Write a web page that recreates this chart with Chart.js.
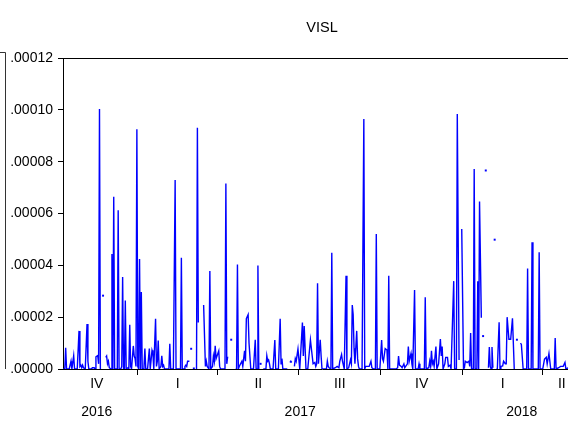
<!DOCTYPE html>
<html>
<head>
<meta charset="utf-8">
<script src="https://cdn.jsdelivr.net/npm/chart.js@4/dist/chart.umd.min.js"></script>
<style>
  html, body { margin: 0; padding: 0; background: #fff; overflow: hidden; }
  #wrap { width: 585px; height: 421px; }
</style>
</head>
<body>
<div id="wrap"><canvas id="c" width="585" height="421"></canvas></div>
<script>
// ---- DATA (days counted from 2017-01-01; values in units of 1e-5) ----
const chartTitle = 'VISL';
const obsDay = [
 -84,-82,-81,-80,-77,-75,-74,-72,-71,-68,-66,-65,-64,-63,-62,-61,-59,-57,-56,-55,
 -52,-51,-49,-48,-47,-45,-44,-43,-42,-40,-39,-38,-36,-35,-34,-33,-32,-30,-29,-28,
 -27,-26,-23,-22,-21,-19,-18,-17,-16,-15,-14,-13,-11,-10,-9,-8,-7,-5,-4,-3,
 -2,-1,0,1,2,3,4,5,6,7,8,9,11,13,14,16,17,18,20,21,
 22,23,24,26,27,28,29,30,35,36,37,40,42,43,48,49,50,52,53,54,
 55,56,58,59,60,61,63,64,66,67,68,69,74,76,77,78,80,81,82,84,
 85,86,87,88,89,91,92,93,97,98,99,100,101,102,105,106,110,111,112,113,
 114,117,118,120,121,122,124,125,127,130,132,133,134,135,136,137,138,139,141,144,
 145,146,147,148,149,152,154,155,158,160,161,162,163,168,170,171,172,173,174,176,
 177,178,180,182,185,186,187,189,191,194,196,197,199,200,201,202,203,205,206,207,
 212,213,214,215,217,218,219,222,224,226,227,229,230,232,234,235,237,239,240,241,
 242,243,244,246,247,248,249,252,254,255,256,258,260,262,263,265,267,268,269,272,
 274,275,276,278,280,281,282,283,290,292,293,294,296,297,299,300,301,303,304,305,
 307,308,309,311,312,315,316,317,322,323,324,327,328,329,330,331,332,333,335,336,
 338,340,341,342,343,345,346,348,349,351,352,353,355,356,358,359,361,362,364,366,
 367,368,370,372,373,374,375,377,378,379,381,382,383,384,386,387,388,389,391,392,
 394,395,396,397,398,399,400,401,402,403,404,406,407,408,410,411,412,413,414,415,
 417,419,421,423,424,426,427,430,431,433,437,438,439,442,443,444,450,451,452,455,
 457,459,460,462,464,468,469,470,473,475,478,480,481,484,488,492,495,498
];
const vislValue = [
 0,0,0.82,0,0,0.3,0,0.51,0,0,1.47,0.1,0.15,0.05,0.15,0.05,0,1.74,0.3,0,
 0,0.05,0.05,0,0.47,0.52,0.2,10.03,0,null,2.83,null,0.45,0.5,0.2,0.3,0.05,0,4.44,0,
 6.65,0,0,6.13,0,0,0.1,3.55,0,0,2.64,0,0.05,0,1.71,0.1,0,0.89,0.5,0.4,
 0.1,9.25,0.1,0,4.24,0,2.97,0,0,0.1,0.79,0,0,0.79,0,0.72,0.6,0,1.94,0.1,
 0.3,1.10,0,0.1,0.51,0.1,0.15,0,0,0.97,0,0,7.29,0,0,4.29,0,0,0.1,0.15,
 0.1,0.3,0.3,null,0.78,null,0.02,null,0,9.31,1.79,null,2.47,0.1,0.3,0.1,0,3.78,0,0.1,
 0.5,0.3,0.9,0.4,0.4,0.7,0.1,0,0,0.05,7.16,0.2,0.48,null,1.13,null,0,0,4.03,0,
 0.1,0.3,0.1,0.7,0.3,1.94,2.1,1.0,0,0,1.13,0,0,3.99,0,null,0.2,null,0,0,
 0.51,0.3,0.35,0.2,0,0,1.12,0,0,1.94,0.2,0.4,0,0,null,0.25,0.3,0.25,null,0.1,
 0.4,0.3,0.77,0,1.79,0.5,1.66,0,0,1.12,0.5,0.2,0.25,0.1,0.2,3.31,0.2,1.13,0.5,0,
 0,0.3,0.1,0.05,0,4.49,0,0.05,0.1,0.05,0.3,0.56,0.3,0,3.6,0,0.05,0.35,0.2,2.47,
 2.1,0.8,0.2,1.47,0.4,0.1,0,0,9.65,0,0.1,0.1,0.1,0.3,0.05,0,0,5.21,0,0,
 1.12,0.4,0.3,0.79,0.73,0,3.6,0,0,0.05,0.5,0.15,0.1,0.05,0.2,0.05,0.1,0.2,0.87,0.3,
 0.6,0.2,0,3.05,0,0,0.2,0,0,2.77,0,0.05,0.3,0.1,0.7,0.2,0.3,0.1,0.87,0,
 0.2,1.16,0.5,0.87,0,0.2,0.45,0.45,0.1,0.15,0,0,3.39,0,0,9.84,0.35,null,5.40,0,
 0.05,0.3,0.25,0.3,0.1,1.39,0,0,7.72,0,0,3.39,0,6.46,1.98,null,1.27,null,7.66,null,
 0.05,0.85,0.1,0,0.85,0.05,null,4.99,null,0,0,1.8,0,0.1,0.12,0.3,0.25,0.2,0.2,2.0,
 1.15,1.15,1.96,0,null,1.13,null,1.0,0.95,0,0,3.88,0,0,4.89,0,0,4.5,0,0,
 0.38,0.45,0.2,0.6,0,0,1.2,0,0.05,0.1,0.1,0.25,0,0.05,0,0.1,0,0
];
// x axis: quarter boundaries (days from 2017-01-01) and labels
const quarterStartDays = [-92, 0, 90, 181, 273, 365, 455, 546];
const quarterLabels = ['IV', 'I', 'II', 'III', 'IV', 'I', 'II'];
const yearStartDays = [-92, 0, 365];
const yearEndDays = [0, 365, 546];
const yearLabels = ['2016', '2017', '2018'];
const xMinDay = -84, xMaxDay = 498;
// y axis (units of 1e-5)
const yTickValues = [0, 2, 4, 6, 8, 10, 12];
const yTickLabels = ['.00000', '.00002', '.00004', '.00006', '.00008', '.00010', '.00012'];

// ---- build ----
const points = obsDay.map((d, i) => ({ x: d, y: vislValue[i] }));
const FONT = '"Liberation Sans", Arial, sans-serif';

function isolated(ctx) {
  const data = ctx.dataset.data, i = ctx.dataIndex;
  if (!data[i] || data[i].y == null) return 0;
  const p = data[i - 1], n = data[i + 1];
  return ((!p || p.y == null) && (!n || n.y == null)) ? 1.4 : 0;
}

const decorations = {
  id: 'decorations',
  afterDraw(chart) {
    const { ctx, chartArea: a, scales: { x } } = chart;
    ctx.save();
    // frame top & right
    ctx.strokeStyle = '#000';
    ctx.lineWidth = 1;
    ctx.beginPath();
    ctx.moveTo(a.left, Math.round(a.top) + 0.5);
    ctx.lineTo(a.right, Math.round(a.top) + 0.5);
    ctx.moveTo(Math.round(a.right) + 0.5, a.top);
    ctx.lineTo(Math.round(a.right) + 0.5, a.bottom);
    ctx.stroke();
    // edge of neighbouring panel frame
    ctx.strokeStyle = '#333';
    ctx.beginPath();
    ctx.moveTo(0, 52.5);
    ctx.lineTo(5.5, 52.5);
    ctx.lineTo(5.5, a.bottom);
    ctx.stroke();
    // title
    ctx.fillStyle = '#000';
    ctx.textAlign = 'center';
    ctx.textBaseline = 'middle';
    ctx.font = '14.5px ' + FONT;
    ctx.fillText(chartTitle, (a.left + a.right) / 2, a.top - 30);
    // quarter labels
    ctx.font = '14px ' + FONT;
    for (let i = 0; i < quarterLabels.length; i++) {
      const s = quarterStartDays[i], e = Math.min(quarterStartDays[i + 1], xMaxDay);
      ctx.fillText(quarterLabels[i], x.getPixelForValue((s + e) / 2), a.bottom + 15);
    }
    for (let i = 0; i < yearLabels.length; i++) {
      const s = yearStartDays[i], e = Math.min(yearEndDays[i], xMaxDay);
      ctx.fillText(yearLabels[i], x.getPixelForValue((s + e) / 2), a.bottom + 43);
    }
    ctx.restore();
  }
};

new Chart(document.getElementById('c'), {
  type: 'line',
  data: {
    datasets: [{
      data: points,
      borderColor: '#0000ff',
      backgroundColor: '#0000ff',
      borderWidth: 1.4,
      tension: 0,
      spanGaps: false,
      pointRadius: isolated,
      pointHoverRadius: 0,
      pointStyle: 'rect',
      pointBorderWidth: 0,
      fill: false
    }]
  },
  options: {
    responsive: false,
    animation: false,
    devicePixelRatio: 1,
    layout: { padding: { left: 0, top: 58, right: 4, bottom: 0 } },
    plugins: { legend: { display: false }, tooltip: { enabled: false }, title: { display: false } },
    events: [],
    scales: {
      x: {
        type: 'linear',
        min: xMinDay,
        max: xMaxDay,
        afterBuildTicks(scale) { scale.ticks = quarterStartDays.filter(v => v > xMinDay && v < xMaxDay).map(v => ({ value: v })); },
        afterFit(scale) { scale.height = 52; },
        grid: { drawOnChartArea: false, drawTicks: true, tickLength: 6, color: '#000', lineWidth: 1 },
        border: { display: true, color: '#000', width: 1 },
        ticks: { display: false }
      },
      y: {
        min: 0,
        max: 12,
        afterBuildTicks(scale) { scale.ticks = yTickValues.map(v => ({ value: v })); },
        afterFit(scale) { scale.width = 63; },
        grid: { drawOnChartArea: false, drawTicks: true, tickLength: 5, color: '#000', lineWidth: 1 },
        border: { display: true, color: '#000', width: 1 },
        ticks: {
          color: '#000',
          padding: 5,
          font: { family: FONT, size: 14 },
          callback: (v, i) => yTickLabels[i]
        }
      }
    }
  },
  plugins: [decorations]
});
</script>
</body>
</html>
